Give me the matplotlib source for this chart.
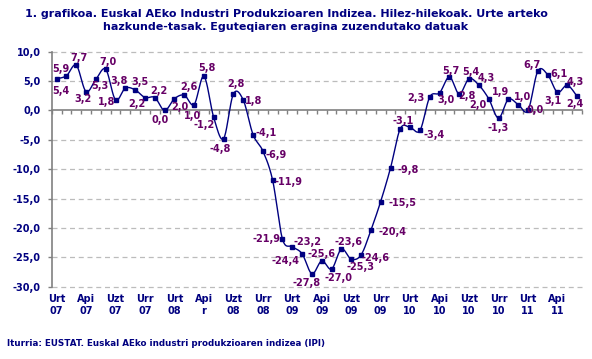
import numpy as np
import matplotlib
matplotlib.use('Agg')
import matplotlib.pyplot as plt
from matplotlib.transforms import blended_transform_factory

# ---- data ----
values = [5.4, 5.9, 7.7, 3.2, 5.3, 7.0, 1.8, 3.8, 3.5, 2.2, 2.2, 0.0,
          2.0, 2.6, 1.0, 5.8, -1.2, -4.8, 2.8, 1.8, -4.1, -6.9, -11.9, -21.9,
          -23.2, -24.4, -27.8, -25.6, -27.0, -23.6, -25.3, -24.6, -20.4, -15.5, -9.8, -3.1,
          -2.9, -3.4, 2.3, 3.0, 5.7, 2.8, 5.4, 4.3, 2.0, -1.3, 1.9, 1.0,
          0.0, 6.7, 6.1, 3.1, 4.3, 2.4]
tick_labels = ['Urt\n07', 'Api\n07', 'Uzt\n07', 'Urr\n07', 'Urt\n08', 'Api\nr',
               'Uzt\n08', 'Urr\n08', 'Urt\n09', 'Api\n09', 'Uzt\n09', 'Urr\n09',
               'Urt\n10', 'Api\n10', 'Uzt\n10', 'Urr\n10', 'Urt\n11', 'Api\n11']
yticks = [10, 5, 0, -5, -10, -15, -20, -25, -30]

title = ("1. grafikoa. Euskal AEko Industri Produkzioaren Indizea. Hilez-hilekoak. Urte arteko\n"
         "hazkunde-tasak. Eguteqiaren eragina zuzendutako datuak")
source = "Iturria: EUSTAT. Euskal AEko industri produkzioaren indizea (IPI)"

# label offsets in pixels (dx, dy up); None = no label
label_offsets = [(4, -12), (-6, 7), (3, 7.5), (-3, -7), (4, -6.5), (2, 7.5), (-9, -2.5), (-6, 7),
                 (4.5, 7.5), (-8, -6), (4, 7), (-5, -10),
                 (5, -8), (5, 8), (-2, -11), (3, 8), (-10, -7), (-3, -10), (3, 10), (10, -1),
                 (13, 2), (13, -4), (16, -2), (-16, 0),
                 (15, 5), (-17, -7), (-5, -9), (0, 7), (7, -9), (7, 7), (9, -8), (14, -3),
                 (22, -2), (22, -1), (18, -2), (3, 8),
                 None, (14, -5), (-14, -1), (6, -7), (1, 6), (8, -2), (2, 7), (7, 7),
                 (-11, -6), (0, -10), (-8, 7), (4, 8),
                 (7, 0), (-6, 6), (11, 1), (-4, -9), (8, 3), (-2, -8)]

NAVY = '#000080'
PURPLE = '#660066'
GRAY = '#808080'

W, H = 592, 359
fig = plt.figure(figsize=(W / 100, H / 100), dpi=100)
ax = fig.add_axes([51.7 / W, 1 - 286.7 / H, (582 - 51.7) / W, (286.7 - 51.7) / H])

x = np.arange(len(values))
y = np.array(values)

# Catmull-Rom smoothing of the line (Excel-like smoothed line)
P = np.column_stack([x, y]).astype(float)
Pp = np.vstack([P[0], P, P[-1]])
xs, ys = [], []
t = np.linspace(0, 1, 20)[:, None]
for i in range(1, len(Pp) - 2):
    p0, p1, p2, p3 = Pp[i - 1], Pp[i], Pp[i + 1], Pp[i + 2]
    seg = 0.5 * ((2 * p1) + (-p0 + p2) * t + (2 * p0 - 5 * p1 + 4 * p2 - p3) * t ** 2
                 + (-p0 + 3 * p1 - 3 * p2 + p3) * t ** 3)
    xs.extend(seg[:, 0]); ys.extend(seg[:, 1])
ax.plot(xs, ys, color=NAVY, lw=1.0, zorder=3)
ax.plot(x, y, 's', color=NAVY, ms=3.2, zorder=4)

ax.set_xlim(-0.5, len(values) - 0.5)
ax.set_ylim(-30, 10)

for v in yticks:
    if v != 0:
        ax.axhline(v, color='#bcbcbc', lw=0.9, ls=(0, (4, 3)), zorder=1, clip_on=False)

for s in ['top', 'right']:
    ax.spines[s].set_visible(False)
ax.spines['left'].set_color(GRAY)
ax.spines['left'].set_linewidth(1.2)
ax.spines['bottom'].set_position(('data', 0))
ax.spines['bottom'].set_color(GRAY)
ax.spines['bottom'].set_linewidth(1.2)

ax.set_xticks(np.arange(-0.5, len(values), 1))
ax.tick_params(axis='x', direction='out', length=3, width=1, color=GRAY, labelbottom=False)
ax.set_yticks(yticks)
ax.set_yticklabels([f"{v:.1f}".replace('.', ',') for v in yticks])
ax.tick_params(axis='y', direction='out', length=3, width=1, color=GRAY, pad=5)
for lab in ax.get_yticklabels():
    lab.set_color(NAVY); lab.set_fontweight('bold'); lab.set_fontsize(7)

trans = blended_transform_factory(ax.transData, fig.transFigure)
for k, lab in enumerate(tick_labels):
    ax.text(3 * k, 1 - 305 / H, lab, transform=trans, ha='center', va='center',
            fontsize=7, fontweight='bold', color=NAVY, linespacing=1.25)

for xi, yi, off in zip(x, y, label_offsets):
    if off is None:
        continue
    ax.annotate(f"{yi:.1f}".replace('.', ',').replace('-0,0', '0,0'), (xi, yi),
                xytext=off, textcoords='offset pixels', ha='center', va='center',
                fontsize=7, fontweight='bold', color=PURPLE, zorder=5, annotation_clip=False)

fig.text(286 / W, 1 - 20.5 / H, title, ha='center', va='center', fontsize=8,
         fontweight='bold', color=NAVY, linespacing=1.35)
fig.text(7 / W, 1 - 343 / H, source, ha='left', va='center', fontsize=6.3,
         fontweight='bold', color=NAVY)

fig.savefig('out.png', dpi=100, facecolor='white')
